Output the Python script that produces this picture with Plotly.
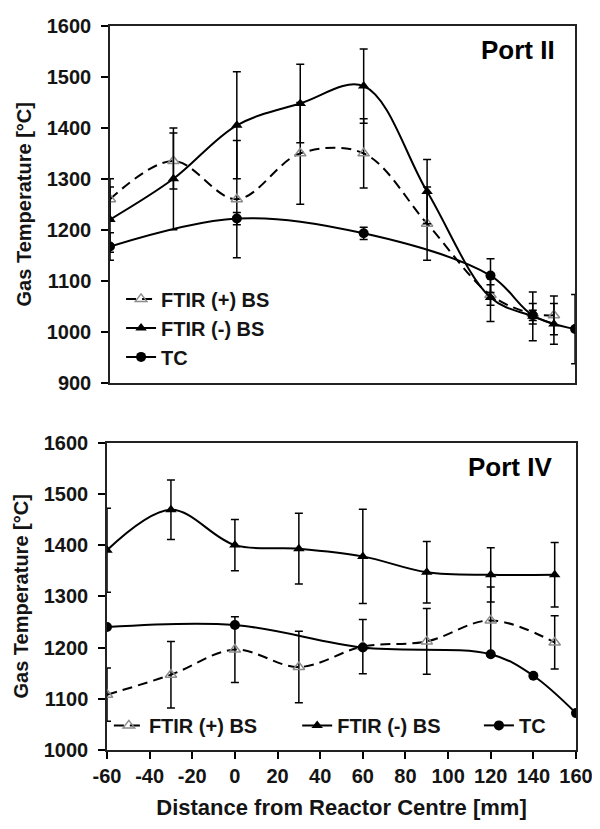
import plotly.graph_objects as go

# Port II (top panel)
x_ftir_p2 = [-60, -30, 0, 30, 60, 90, 120, 140, 150]
ftir_plus_p2 = [1260, 1335, 1260, 1350, 1350, 1212, 1072, 1035, 1032]
ftir_plus_p2_err = [40, 55, 115, 100, 68, 72, 20, 20, 38]
ftir_minus_p2 = [1220, 1300, 1405, 1448, 1482, 1275, 1067, 1030, 1015]
ftir_minus_p2_err = [64, 100, 105, 77, 73, 63, 47, 48, 40]
x_tc_p2 = [-60, 0, 60, 120, 140, 160]
tc_p2 = [1167, 1222, 1193, 1110, 1032, 1005]
tc_p2_err = [27, 12, 12, 33, 10, 68]

# Port IV (bottom panel)
x_ftir_p4 = [-60, -30, 0, 30, 60, 90, 120, 150]
ftir_plus_p4 = [1108, 1147, 1196, 1162, 1202, 1212, 1253, 1210]
ftir_plus_p4_err = [52, 65, 64, 70, 53, 64, 65, 52]
ftir_minus_p4 = [1390, 1469, 1400, 1393, 1378, 1347, 1342, 1342]
ftir_minus_p4_err = [82, 58, 50, 69, 92, 60, 53, 63]
x_tc_p4 = [-60, 0, 60, 120, 140, 160]
tc_p4 = [1240, 1244, 1200, 1187, 1145, 1072]

names = ["FTIR (+) BS", "FTIR (-) BS", "TC"]
x_tickvals = [-60, -40, -20, 0, 20, 40, 60, 80, 100, 120, 140, 160]
x_ticktext = ["-60", "-40", "-20", "0", "20", "40", "60", "80", "100", "120", "140", "160"]

FONT = "Liberation Sans, Arial, sans-serif"
INK = "#141414"


def f(size, color=INK):
    return dict(family=FONT, size=size, color=color, weight="bold")


def err(v):
    return dict(type="data", array=v, visible=True, color="black", thickness=1.5, width=4)


def series(x, y, e, name, style, xa, ya, legend):
    if style == "plus":
        line = dict(color="black", width=2, dash="10px,6px", shape="spline", smoothing=1)
        marker = dict(symbol="triangle-up-open", size=10, color="#8c8c8c", line=dict(width=1.5))
    elif style == "minus":
        line = dict(color="black", width=2, shape="spline", smoothing=1)
        marker = dict(symbol="triangle-up", size=10, color="black")
    else:
        line = dict(color="black", width=2, shape="spline", smoothing=1)
        marker = dict(symbol="circle", size=10, color="black")
    return go.Scatter(x=x, y=y, name=name, mode="lines+markers", line=line, marker=marker,
                      error_y=err(e) if e is not None else None,
                      xaxis=xa, yaxis=ya, legend=legend)


fig = go.Figure()
# top panel, one legend
fig.add_trace(series(x_ftir_p2, ftir_plus_p2, ftir_plus_p2_err, names[0], "plus", "x2", "y2", "legend"))
fig.add_trace(series(x_ftir_p2, ftir_minus_p2, ftir_minus_p2_err, names[1], "minus", "x2", "y2", "legend"))
fig.add_trace(series(x_tc_p2, tc_p2, tc_p2_err, names[2], "tc", "x2", "y2", "legend"))
# bottom panel, each entry placed on its own so the row spacing matches
fig.add_trace(series(x_ftir_p4, ftir_plus_p4, ftir_plus_p4_err, names[0], "plus", "x", "y", "legend2"))
fig.add_trace(series(x_ftir_p4, ftir_minus_p4, ftir_minus_p4_err, names[1], "minus", "x", "y", "legend3"))
fig.add_trace(series(x_tc_p4, tc_p4, None, names[2], "tc", "x", "y", "legend4"))

yaxis_common = dict(dtick=100, ticks="outside", ticklen=7, tickwidth=1.5, tickcolor="black",
                    ticklabelstandoff=6,
                    showline=True, linecolor="#222", linewidth=1.5, mirror=True,
                    showgrid=False, zeroline=False, tickfont=f(20),
                    title=dict(text="Gas Temperature [°C]", font=f(20), standoff=10))

bottom_legend = dict(orientation="h", y=0.034, xanchor="left", yanchor="middle",
                     bgcolor="rgba(0,0,0,0)", font=f(20))

fig.update_layout(
    width=592, height=821,
    paper_bgcolor="white", plot_bgcolor="white",
    margin=dict(l=99, r=22, t=7, b=79),
    xaxis=dict(domain=[0, 1], anchor="y", range=[-60, 160], tickvals=x_tickvals, ticktext=x_ticktext,
               ticks="outside", ticklen=7, tickwidth=1.5, tickcolor="black",
               showline=True, linecolor="#222", linewidth=1.5, mirror=True,
               showgrid=False, zeroline=False, tickfont=f(20),
               title=dict(text="Distance from Reactor Centre [mm]", font=f(22), standoff=14)),
    yaxis=dict(domain=[0, 0.4245], anchor="x", range=[1000, 1600], **yaxis_common),
    xaxis2=dict(domain=[0.0064, 0.998], anchor="y2", range=[-60, 160], showticklabels=False,
                ticks="", showline=True, linecolor="#222", linewidth=1.5, mirror=True,
                showgrid=False, zeroline=False),
    yaxis2=dict(domain=[0.5075, 1], anchor="x2", range=[900, 1600], **yaxis_common),
    legend=dict(x=0.03, y=0.65, xanchor="left", yanchor="top", bgcolor="rgba(0,0,0,0)",
                font=f(20), tracegroupgap=0),
    legend2=dict(x=0.004, **bottom_legend),
    legend3=dict(x=0.4055, **bottom_legend),
    legend4=dict(x=0.793, **bottom_legend),
    annotations=[
        dict(text="Port II", xref="x2 domain", yref="y2 domain", x=0.9615, y=0.934,
             xanchor="right", yanchor="middle", showarrow=False, font=f(26, "black")),
        dict(text="Port IV", xref="x domain", yref="y domain", x=0.953, y=0.92,
             xanchor="right", yanchor="middle", showarrow=False, font=f(26, "black")),
    ],
)

fig.write_html("out.html")
